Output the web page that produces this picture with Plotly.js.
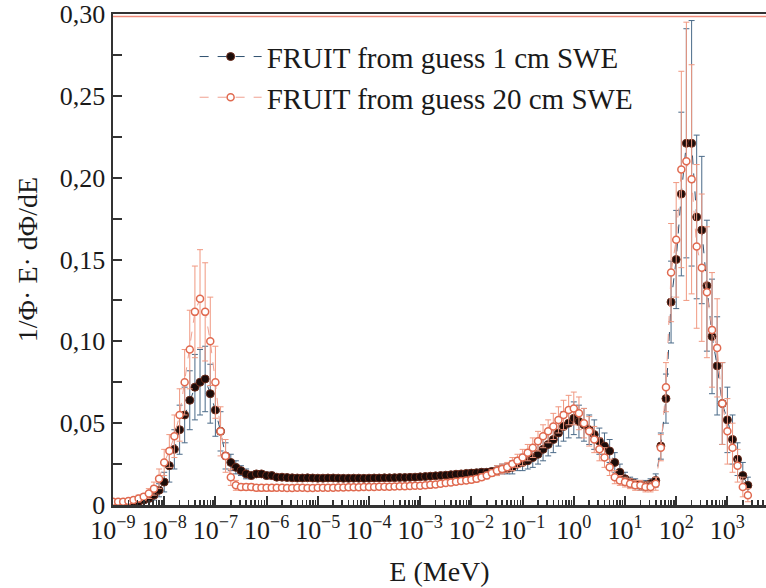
<!DOCTYPE html>
<html><head><meta charset="utf-8">
<script src="https://cdn.plot.ly/plotly-3.0.1.min.js"></script>
<style>html,body{margin:0;padding:0;background:#fff}#c{width:766px;height:588px}</style>
</head><body><div id="c"></div>
<script>
// Energy bins (MeV)
const energy = [
1.00e-9,1.26e-9,1.58e-9,2.00e-9,2.51e-9,3.16e-9,3.98e-9,5.01e-9,6.31e-9,7.94e-9,
1.00e-8,1.26e-8,1.58e-8,2.00e-8,2.51e-8,3.16e-8,3.98e-8,5.01e-8,6.31e-8,7.94e-8,
1.00e-7,1.26e-7,1.58e-7,2.00e-7,2.51e-7,3.16e-7,3.98e-7,5.01e-7,6.31e-7,7.94e-7,
1.00e-6,1.26e-6,1.58e-6,2.00e-6,2.51e-6,3.16e-6,3.98e-6,5.01e-6,6.31e-6,7.94e-6,
1.00e-5,1.26e-5,1.58e-5,2.00e-5,2.51e-5,3.16e-5,3.98e-5,5.01e-5,6.31e-5,7.94e-5,
1.00e-4,1.26e-4,1.58e-4,2.00e-4,2.51e-4,3.16e-4,3.98e-4,5.01e-4,6.31e-4,7.94e-4,
1.00e-3,1.26e-3,1.58e-3,2.00e-3,2.51e-3,3.16e-3,3.98e-3,5.01e-3,6.31e-3,7.94e-3,
1.00e-2,1.26e-2,1.58e-2,2.00e-2,2.51e-2,3.16e-2,3.98e-2,5.01e-2,6.31e-2,7.94e-2,
1.00e-1,1.26e-1,1.58e-1,2.00e-1,2.51e-1,3.16e-1,3.98e-1,5.01e-1,6.31e-1,7.94e-1,
1.00,1.26,1.58,2.00,2.51,3.16,3.98,5.01,6.31,7.94,
10.0,12.6,15.8,20.0,25.1,31.6,39.8,50.1,63.1,79.4,
100,126,158,200,251,316,398,501,631,794,
1000,1260,1580,2000,2510
];
// FRUIT from guess 1 cm SWE
const y1cm = [
0.001,0.001,0.001,0.0012,0.0015,0.002,0.003,0.004,0.006,0.009,
0.014,0.024,0.034,0.046,0.055,0.064,0.072,0.075,0.077,0.068,
0.058,0.045,0.030,0.026,0.023,0.021,0.019,0.018,0.019,0.019,
0.018,0.018,0.017,0.017,0.0168,0.0166,0.0165,0.0165,0.0166,0.0165,
0.0164,0.0164,0.0165,0.0165,0.0164,0.0163,0.0163,0.0164,0.0164,0.0163,
0.0164,0.0165,0.0165,0.0166,0.0166,0.0167,0.0168,0.0168,0.0169,0.0170,
0.0172,0.0174,0.0176,0.0178,0.0180,0.0182,0.0185,0.0188,0.0190,0.0193,
0.0195,0.0197,0.020,0.020,0.0205,0.021,0.022,0.022,0.023,0.025,
0.026,0.027,0.029,0.031,0.034,0.037,0.040,0.044,0.048,0.050,
0.053,0.051,0.049,0.046,0.043,0.039,0.036,0.033,0.026,0.020,
0.016,0.014,0.013,0.012,0.012,0.013,0.015,0.036,0.065,0.124,
0.150,0.190,0.221,0.221,0.176,0.168,0.134,0.103,0.085,0.062,
0.052,0.040,0.028,0.018,0.012
];
const err1cm = [
0.001,0.001,0.001,0.001,0.001,0.001,0.002,0.002,0.003,0.004,
0.006,0.010,0.012,0.015,0.017,0.018,0.020,0.020,0.020,0.018,
0.016,0.012,0.008,0.005,0.004,0.003,0.003,0.002,0.002,0.002,
0.002,0.002,0.0015,0.0015,0.0015,0.0015,0.0015,0.0015,0.0015,0.0015,
0.0015,0.0015,0.0015,0.0015,0.0015,0.0015,0.0015,0.0015,0.0015,0.0015,
0.0015,0.0015,0.0015,0.0015,0.0015,0.0015,0.0015,0.0015,0.0015,0.0015,
0.0015,0.0015,0.0015,0.0015,0.0015,0.0015,0.0015,0.0015,0.0015,0.0015,
0.002,0.002,0.002,0.002,0.002,0.003,0.003,0.003,0.004,0.004,
0.005,0.005,0.006,0.006,0.007,0.007,0.008,0.008,0.009,0.009,
0.010,0.010,0.010,0.009,0.009,0.008,0.008,0.007,0.006,0.005,
0.004,0.003,0.003,0.003,0.003,0.003,0.004,0.008,0.015,0.025,
0.030,0.050,0.070,0.075,0.050,0.045,0.040,0.035,0.030,0.025,
0.020,0.015,0.010,0.008,0.005
];
// FRUIT from guess 20 cm SWE
const y20cm = [
0.002,0.002,0.002,0.0025,0.003,0.004,0.005,0.007,0.010,0.016,
0.026,0.033,0.042,0.055,0.075,0.095,0.118,0.126,0.118,0.100,
0.075,0.045,0.030,0.017,0.012,0.011,0.011,0.011,0.0105,0.0105,
0.0105,0.0105,0.0105,0.0105,0.0104,0.0104,0.0105,0.0105,0.0104,0.0104,
0.0105,0.0105,0.0106,0.0106,0.0107,0.0107,0.0108,0.0108,0.0109,0.0110,
0.0110,0.0110,0.0111,0.0111,0.0112,0.0113,0.0114,0.0115,0.0116,0.0117,
0.0118,0.0120,0.0123,0.0126,0.0130,0.0134,0.0138,0.0142,0.0146,0.0150,
0.0155,0.016,0.017,0.018,0.0195,0.021,0.022,0.023,0.025,0.027,
0.029,0.032,0.035,0.039,0.042,0.045,0.048,0.052,0.055,0.058,
0.059,0.056,0.050,0.045,0.040,0.034,0.029,0.023,0.017,0.015,
0.014,0.013,0.012,0.012,0.011,0.011,0.013,0.035,0.072,0.142,
0.162,0.205,0.210,0.199,0.158,0.145,0.130,0.107,0.096,0.062,
0.045,0.035,0.024,0.011,0.006
];
const err20cm = [
0.001,0.001,0.001,0.001,0.001,0.002,0.002,0.003,0.004,0.006,
0.008,0.010,0.013,0.016,0.020,0.024,0.028,0.030,0.030,0.027,
0.022,0.015,0.010,0.005,0.003,0.002,0.002,0.002,0.002,0.002,
0.002,0.002,0.0015,0.0015,0.0015,0.0015,0.0015,0.0015,0.0015,0.0015,
0.0015,0.0015,0.0015,0.0015,0.0015,0.0015,0.0015,0.0015,0.0015,0.0015,
0.0015,0.0015,0.0015,0.0015,0.0015,0.0015,0.0015,0.0015,0.0015,0.0015,
0.0015,0.0015,0.0015,0.0015,0.0015,0.0015,0.0015,0.0015,0.0015,0.0015,
0.002,0.002,0.002,0.002,0.002,0.003,0.003,0.003,0.004,0.004,
0.005,0.005,0.006,0.006,0.007,0.007,0.008,0.008,0.009,0.009,
0.010,0.010,0.009,0.009,0.008,0.007,0.006,0.005,0.004,0.003,
0.003,0.003,0.003,0.003,0.003,0.003,0.004,0.008,0.015,0.030,
0.035,0.060,0.085,0.070,0.050,0.045,0.040,0.035,0.030,0.025,
0.020,0.015,0.010,0.006,0.004
];
const yTickVals = [0,0.05,0.10,0.15,0.20,0.25,0.30];
const yTickText = ["0","0,05","0,10","0,15","0,20","0,25","0,30"];
const xTickVals = [1e-9,1e-8,1e-7,1e-6,1e-5,1e-4,1e-3,1e-2,1e-1,1,10,100,1000];
const xTickText = ["10<sup>−9</sup>","10<sup>−8</sup>","10<sup>−7</sup>","10<sup>−6</sup>","10<sup>−5</sup>",
  "10<sup>−4</sup>","10<sup>−3</sup>","10<sup>−2</sup>","10<sup>−1</sup>","10<sup>0</sup>",
  "10<sup>1</sup>","10<sup>2</sup>","10<sup>3</sup>"];
const seriesNames = ["FRUIT from guess 1 cm SWE","FRUIT from guess 20 cm SWE"];

const serif = "Liberation Serif, Times New Roman, serif";
const traces = [
 {x: energy, y: y1cm, name: seriesNames[0], type:'scatter', mode:'lines+markers',
  line:{color:'#2e4f6e', width:1, dash:'dash'},
  marker:{symbol:'circle', size:8, color:'#1a0c0a', line:{color:'#6a2a1a', width:1}},
  error_y:{type:'data', array: err1cm, visible:true, color:'#4a6a88', thickness:1, width:3}},
 {x: energy, y: y20cm, name: seriesNames[1], type:'scatter', mode:'lines+markers',
  line:{color:'#f0a090', width:1, dash:'dash'},
  marker:{symbol:'circle', size:7, color:'#ffffff', line:{color:'#e06a50', width:1.5}},
  error_y:{type:'data', array: err20cm, visible:true, color:'#f09880', thickness:1, width:3}}
];
const layout = {
 width:766, height:588,
 margin:{l:113, r:0, t:14, b:83},
 paper_bgcolor:'#fff', plot_bgcolor:'#fff',
 font:{family:serif, color:'#1a1a1a', size:25},
 showlegend:true,
 legend:{x:0.125, y:0.965, xanchor:'left', yanchor:'top', bgcolor:'rgba(0,0,0,0)',
   font:{family:serif, size:29, color:'#1a1a1a'}, itemwidth:62, tracegroupgap:0},
 xaxis:{type:'log', range:[-9, 3.754], tickvals:xTickVals, ticktext:xTickText, tickangle:0,
   showline:true, linecolor:'#333', linewidth:2.5, mirror:true,
   ticks:'inside', ticklen:9, tickwidth:2, tickcolor:'#333',
   minor:{ticks:'inside', ticklen:5, tickwidth:1.5, tickcolor:'#333', dtick:'D1'},
   showgrid:false, zeroline:false, automargin:false, ticklabeloverflow:'allow',
   tickfont:{family:serif, size:26, color:'#1a1a1a'},
   title:{text:'E (MeV)', font:{family:serif, size:28, color:'#1a1a1a'}, standoff:18}},
 yaxis:{range:[0,0.30], tickvals:yTickVals, ticktext:yTickText,
   showline:true, linecolor:'#333', linewidth:2.5, automargin:false, ticklabeloverflow:'allow',
   ticks:'inside', ticklen:9, tickwidth:2, tickcolor:'#333',
   minor:{ticks:'inside', ticklen:9, tickwidth:2, tickcolor:'#333', dtick:0.025},
   showgrid:false, zeroline:false,
   tickfont:{family:serif, size:26, color:'#1a1a1a'},
   title:{text:'1/Φ· E· dΦ/dE', font:{family:serif, size:28, color:'#1a1a1a'}, standoff:14}},
 shapes:[{type:'line', xref:'paper', yref:'paper', x0:0, x1:1, y0:0.995, y1:0.995,
   line:{color:'#f08a78', width:1.5}}]
};
Plotly.newPlot('c', traces, layout, {displayModeBar:false, staticPlot:true});
</script></body></html>
